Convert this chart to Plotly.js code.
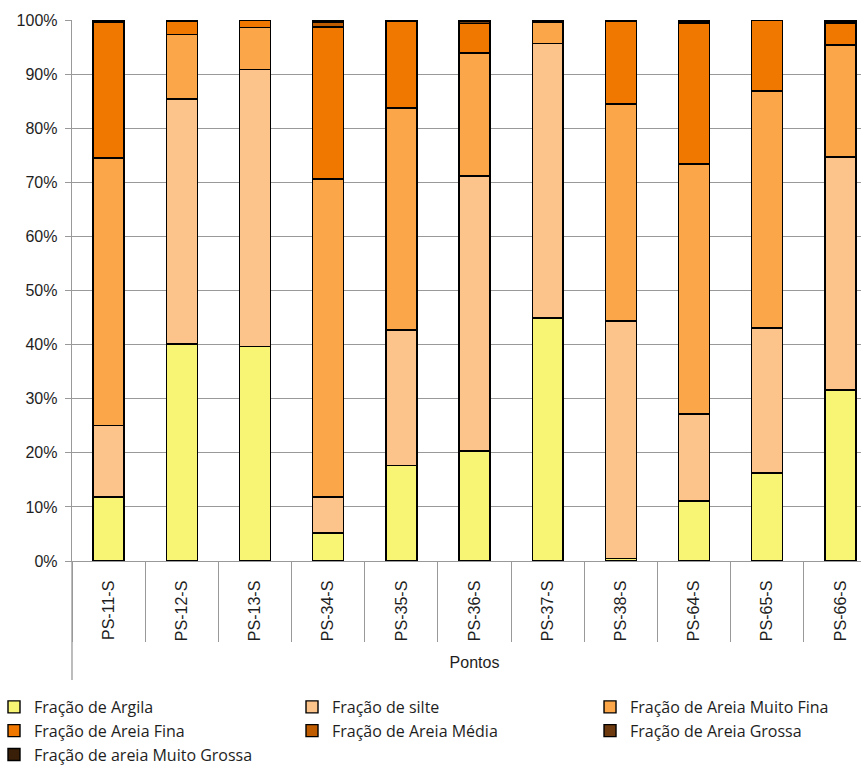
<!DOCTYPE html>
<html>
<head>
<meta charset="utf-8">
<script src="https://cdn.plot.ly/plotly-3.0.1.min.js"></script>
<style>html,body{margin:0;padding:0;background:#fff;overflow:hidden}#chart{width:877px;height:765px}</style>
</head>
<body>
<div id="chart"></div>
<script>
const categories = ["PS-11-S","PS-12-S","PS-13-S","PS-34-S","PS-35-S","PS-36-S","PS-37-S","PS-38-S","PS-64-S","PS-65-S","PS-66-S"];
const argila       = [11.8, 40.1, 39.7,  5.2, 17.7, 20.3, 44.9,  0.5, 11.1, 16.3, 31.6];
const silte        = [13.3, 45.3, 51.1,  6.6, 25.0, 50.9, 50.8, 43.9, 16.1, 26.8, 43.1];
const areiaMF      = [49.4, 11.9,  7.8, 58.8, 41.0, 22.7,  3.9, 40.1, 46.2, 43.8, 20.7];
const areiaFina    = [25.1,  2.4,  1.4, 28.1, 16.1,  5.5,  0.2, 15.2, 26.0, 13.1,  3.9];
const areiaMedia   = [ 0.0,  0.3,  0.0,  0.9,  0.0,  0.0,  0.1,  0.1,  0.0,  0.0,  0.0];
const areiaGrossa  = [ 0.1,  0.0,  0.0,  0.0,  0.1,  0.3,  0.0,  0.1,  0.2,  0.0,  0.3];
const areiaMG      = [ 0.3,  0.0,  0.0,  0.4,  0.1,  0.3,  0.1,  0.1,  0.4,  0.0,  0.4];

const seriesNames = ["Fração de Argila","Fração de silte","Fração de Areia Muito Fina","Fração de Areia Fina","Fração de Areia Média","Fração de Areia Grossa","Fração de areia Muito Grossa"];
const seriesValues = [argila, silte, areiaMF, areiaFina, areiaMedia, areiaGrossa, areiaMG];
const colors = ["#F8F574","#FCC48A","#FBA649","#F07800","#C05C00","#6C3A0E","#3A1F08"];
const legendColumn = ["legend","legend2","legend3","legend","legend2","legend3","legend"];

const traces = seriesNames.map((n,i)=>({
  type:'bar', name:n, x:categories, y:seriesValues[i],
  legend:legendColumn[i],
  marker:{color:colors[i], line:{color:'#000', width:1.4}},
  hoverinfo:'skip'
}));

const font = "Liberation Sans, Arial, sans-serif";
const legFont = "Open Sans, Liberation Sans, sans-serif";
const txt = '#1e1e1e';
function leg(x){
  return {orientation:'v', x:x, xanchor:'left', y:-0.2384, yanchor:'top',
    traceorder:'normal', bgcolor:'rgba(0,0,0,0)', itemwidth:30,
    font:{family:legFont, size:16, color:txt}};
}
const layout = {
  width:877, height:765,
  margin:{l:72, r:0, t:20, b:204, autoexpand:false},
  barmode:'stack', barnorm:'percent', bargap:0.577,
  paper_bgcolor:'#fff', plot_bgcolor:'#fff',
  font:{family:font, size:15, color:txt},
  showlegend:true,
  legend:leg(-0.0969),
  legend2:leg(0.2733),
  legend3:leg(0.6435),
  xaxis:{type:'category', tickangle:-90, ticks:'outside', tickson:'boundaries', ticklen:80,
    tickcolor:'#999', tickwidth:1, showline:true, linecolor:'#999', linewidth:1.3,
    showgrid:false, automargin:false, ticklabelstandoff:12,
    tickfont:{family:font, size:16, color:txt},
    title:{text:'Pontos', font:{family:font, size:16, color:txt}, standoff:16}},
  yaxis:{range:[0,100], dtick:10, ticksuffix:'%', ticks:'outside', ticklen:6, tickcolor:'#999',
    showline:true, linecolor:'#999', linewidth:1.3, showgrid:true, gridcolor:'#999', gridwidth:1,
    automargin:false, ticklabelstandoff:4,
    tickfont:{family:font, size:16, color:txt}, zeroline:false, fixedrange:true},
  shapes:[{type:'line', xref:'paper', yref:'paper', x0:0, x1:0, y0:0, y1:-0.22, line:{color:'#999', width:1.3}}]
};
Plotly.newPlot('chart', traces, layout, {displayModeBar:false, staticPlot:true});
</script>
</body>
</html>
